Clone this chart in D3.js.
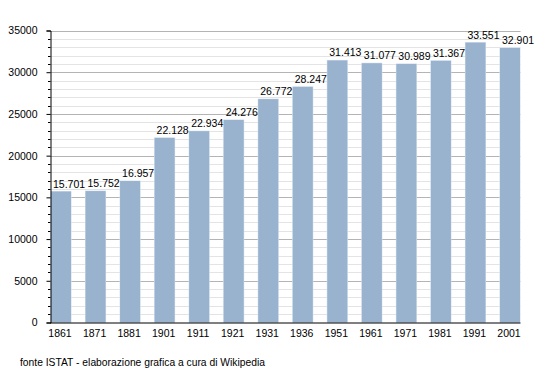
<!DOCTYPE html>
<html>
<head>
<meta charset="utf-8">
<script src="https://cdn.jsdelivr.net/npm/d3@7"></script>
<style>
  body { margin: 0; background: #fff; }
  text { font-family: "Liberation Sans", Arial, sans-serif; fill: #000; }
</style>
</head>
<body>
<div id="chart"></div>
<script>
var years = ["1861","1871","1881","1901","1911","1921","1931","1936","1951","1961","1971","1981","1991","2001"];
var population = [15701,15752,16957,22128,22934,24276,26772,28247,31413,31077,30989,31367,33551,32901];
var yTicks = [0,5000,10000,15000,20000,25000,30000,35000];
var sourceNote = "fonte ISTAT - elaborazione grafica a cura di Wikipedia";

var width = 550, height = 373;

var svg = d3.select("#chart")
  .append("svg")
    .attr("width", width)
    .attr("height", height);

var x = d3.scaleBand()
  .domain(years)
  .range([51, 520])
  .paddingInner(0.42)
  .paddingOuter(0);

var y = d3.scaleLinear()
  .domain([0, 35000])
  .range([322.5, 30.5]);

// minor grid every 1000
svg.append("g")
  .selectAll("line")
  .data(d3.range(1000, 35001, 1000).filter(d => d % 5000 != 0))
  .join("line")
    .attr("x1", 50).attr("x2", 520.5)
    .attr("y1", d => Math.round(y(d)) + 0.5)
    .attr("y2", d => Math.round(y(d)) + 0.5)
    .attr("stroke", "#e4e4e4");

// major grid every 5000
svg.append("g")
  .selectAll("line")
  .data(yTicks.filter(d => d > 0))
  .join("line")
    .attr("x1", 50).attr("x2", 520.5)
    .attr("y1", d => Math.round(y(d)) + 0.5)
    .attr("y2", d => Math.round(y(d)) + 0.5)
    .attr("stroke", "#b4b4b4");

// bars (soft halo + fill)
svg.append("g")
  .selectAll("rect")
  .data(population)
  .join("rect")
    .attr("x", (d, i) => x(years[i]) - 0.5)
    .attr("y", d => y(d) - 0.5)
    .attr("width", x.bandwidth() + 1)
    .attr("height", d => y(0) - y(d) + 0.5)
    .attr("fill", "#d6e2f0");

svg.append("g")
  .selectAll("rect")
  .data(population)
  .join("rect")
    .attr("x", (d, i) => x(years[i]))
    .attr("y", d => y(d))
    .attr("width", x.bandwidth())
    .attr("height", d => y(0) - y(d))
    .attr("fill", "#99b2ce");

// value labels, left aligned on the bar
var fmt = d3.formatLocale({decimal: ",", thousands: ".", grouping: [3], currency: ["", "€"]}).format(",d");
svg.append("g")
  .selectAll("text")
  .data(population)
  .join("text")
    .attr("x", (d, i) => x(years[i]) + 2)
    .attr("y", d => y(d) - 4)
    .style("font-size", "10.5px")
    .text(d => fmt(d));

// y axis
var yAxis = svg.append("g")
  .attr("transform", "translate(50.5,0)")
  .call(d3.axisLeft(y).tickValues(yTicks).tickSize(4).tickFormat(d3.format("d")));
yAxis.select(".domain").attr("stroke", "#000");
yAxis.selectAll(".tick text").style("font-size", "10.5px").attr("x", -13).attr("fill", "#000");

// minor y ticks
svg.append("g")
  .selectAll("line")
  .data(d3.range(1000, 35000, 1000).filter(d => d % 5000 != 0))
  .join("line")
    .attr("x1", 48).attr("x2", 50.5)
    .attr("y1", d => Math.round(y(d)) + 0.5)
    .attr("y2", d => Math.round(y(d)) + 0.5)
    .attr("stroke", "#000");

// x axis
var xAxis = svg.append("g")
  .attr("transform", `translate(0,${y(0)})`)
  .call(d3.axisBottom(x).tickSize(0).tickPadding(7));
xAxis.select(".domain").attr("d", "M50,0.5H520.5").attr("stroke", "#000");
xAxis.selectAll(".tick text").style("font-size", "10.5px").attr("dx", -1).attr("fill", "#000");

svg.append("text")
  .attr("x", 20)
  .attr("y", 366)
  .style("font-size", "10.3px")
  .text(sourceNote);
</script>
</body>
</html>
